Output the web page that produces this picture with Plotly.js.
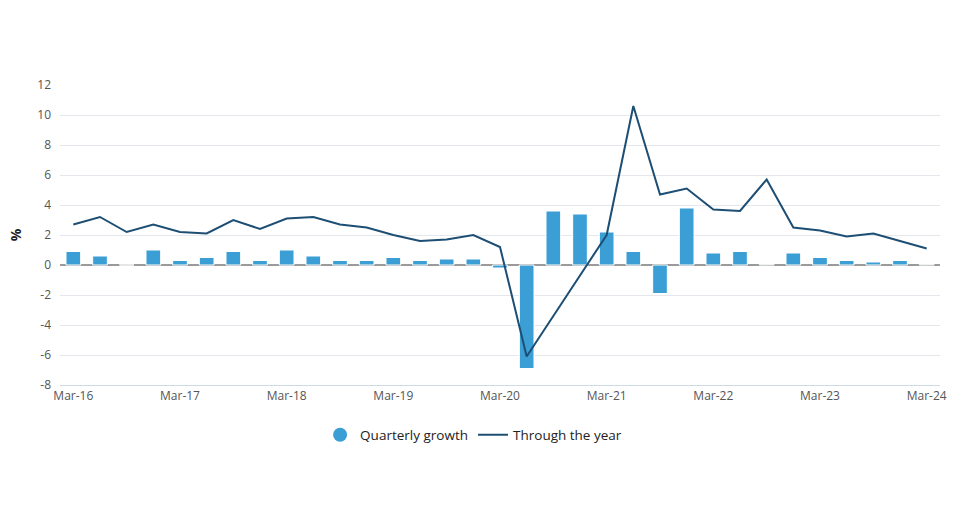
<!DOCTYPE html>
<html>
<head>
<meta charset="utf-8">
<script src="https://cdn.plot.ly/plotly-3.0.1.min.js"></script>
<style>html,body{margin:0;padding:0;background:#fff;}#chart{width:960px;height:517px;}</style>
</head>
<body>
<div id="chart"></div>
<script>
const quarters = ["Mar-16","Jun-16","Sep-16","Dec-16","Mar-17","Jun-17","Sep-17","Dec-17",
  "Mar-18","Jun-18","Sep-18","Dec-18","Mar-19","Jun-19","Sep-19","Dec-19",
  "Mar-20","Jun-20","Sep-20","Dec-20","Mar-21","Jun-21","Sep-21","Dec-21",
  "Mar-22","Jun-22","Sep-22","Dec-22","Mar-23","Jun-23","Sep-23","Dec-23","Mar-24"];
const quarterlyGrowth = [0.9,0.6,0.0,1.0,0.3,0.5,0.9,0.3,
  1.0,0.6,0.3,0.3,0.5,0.3,0.4,0.4,
  -0.2,-6.9,3.6,3.4,2.2,0.9,-1.9,3.8,
  0.8,0.9,0.05,0.8,0.5,0.3,0.2,0.3,0.05];
const throughTheYear = [2.7,3.2,2.2,2.7,2.2,2.1,3.0,2.4,
  3.1,3.2,2.7,2.5,2.0,1.6,1.7,2.0,
  1.2,-6.1,-3.4,-0.7,2.0,10.6,4.7,5.1,
  3.7,3.6,5.7,2.5,2.3,1.9,2.1,1.6,1.1];
const tickLabels = ["Mar-16","Mar-17","Mar-18","Mar-19","Mar-20","Mar-21","Mar-22","Mar-23","Mar-24"];
const yTickVals = [-8,-6,-4,-2,0,2,4,6,8,10,12];
const yTickText = ["-8","-6","-4","-2","0","2","4","6","8","10","12"];

const barColor = "#3b9fd5";
const lineColor = "#1d4e74";

const traces = [
  {type:"bar", x:quarters, y:quarterlyGrowth, name:"Quarterly growth", showlegend:false,
   marker:{color:barColor, line:{color:"#ffffff", width:1}}, width:0.55, hoverinfo:"x+y"},
  {type:"scatter", mode:"lines", x:quarters, y:throughTheYear, name:"Through the year",
   line:{color:lineColor, width:2}},
  {type:"scatter", mode:"markers", x:[null], y:[null], name:"Quarterly growth",
   marker:{color:barColor, size:14, symbol:"circle"}}
];

const layout = {
  width:960, height:517,
  margin:{l:60, r:20, t:85, b:132},
  paper_bgcolor:"#ffffff", plot_bgcolor:"#ffffff",
  font:{family:"Open Sans, sans-serif", size:12, color:"#555555"},
  xaxis:{type:"category", tickmode:"array", tickvals:tickLabels, ticktext:tickLabels,
    showgrid:false, showline:true, linecolor:"#cddbe6", linewidth:1, ticks:"",
    tickfont:{size:12, color:"#555555"}, zeroline:false, fixedrange:true},
  yaxis:{range:[-8,12], tickmode:"array", tickvals:yTickVals, ticktext:yTickText,
    showgrid:true, gridcolor:"#e4e8ec", gridwidth:1,
    zeroline:true, zerolinecolor:"#9a9a9a", zerolinewidth:1.5, ticks:"", showline:false,
    tickfont:{size:12, color:"#555555"}, ticklabelstandoff:8,
    title:{text:"%", font:{size:14, color:"#222222", family:"Open Sans, sans-serif", weight:"bold"}, standoff:12}},
  legend:{orientation:"h", x:0.47, xanchor:"center", y:-0.115, yanchor:"top",
    traceorder:"reversed", font:{size:13.5, color:"#222222"}, itemwidth:30},
  showlegend:true
};

Plotly.newPlot("chart", traces, layout, {displayModeBar:false, staticPlot:true});
</script>
</body>
</html>
